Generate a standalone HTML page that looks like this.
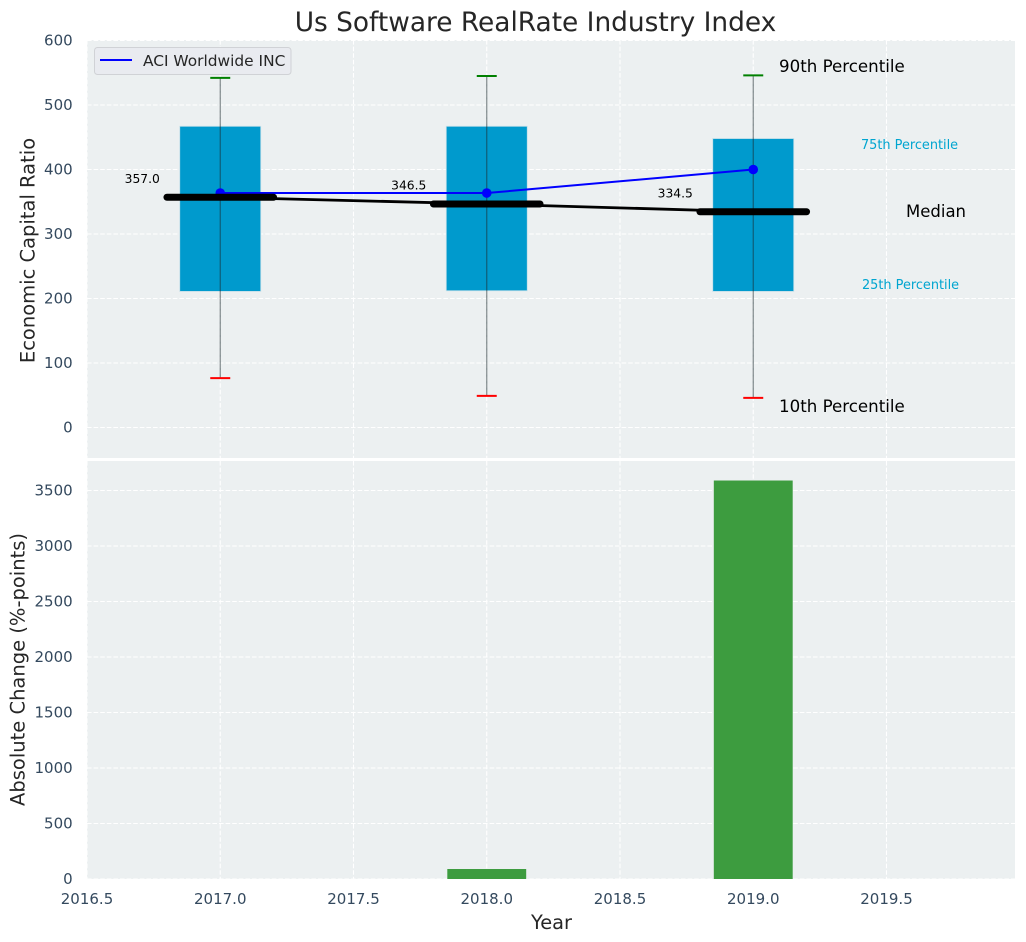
<!DOCTYPE html>
<html>
<head>
<meta charset="utf-8">
<title>Us Software RealRate Industry Index</title>
<style>
html,body{margin:0;padding:0;background:#fff;width:1026px;height:942px;overflow:hidden}
svg{display:block}
text{font-family:"DejaVu Sans",sans-serif}
</style>
</head>
<body>
<svg id="chart" width="1026" height="942" viewBox="0 0 1026 942" xmlns="http://www.w3.org/2000/svg">
<text x="535.5" y="31" text-anchor="middle" font-size="26.4" fill="#262626">Us Software RealRate Industry Index</text>
<rect x="87" y="40" width="928" height="418" fill="#ecf0f1"/>
<rect x="87" y="461" width="928" height="418" fill="#ecf0f1"/>
<g id="grid"></g>
<g id="marks"></g>
<g id="ticks"></g>
<text transform="translate(34.5 250.5) rotate(-90)" text-anchor="middle" font-size="19.5" fill="#262626">Economic Capital Ratio</text>
<text transform="translate(24.5 669.5) rotate(-90)" text-anchor="middle" font-size="19.5" fill="#262626">Absolute Change (%-points)</text>
<text x="551.5" y="929" text-anchor="middle" font-size="19.4" fill="#262626">Year</text>
<text x="779" y="72" font-size="16.67" fill="#000">90th Percentile</text>
<text x="861" y="149" font-size="12.87" fill="#00a5d0">75th Percentile</text>
<text x="906" y="217" font-size="16.5" fill="#000">Median</text>
<text x="862" y="289" font-size="12.87" fill="#00a5d0">25th Percentile</text>
<text x="779" y="412" font-size="16.67" fill="#000">10th Percentile</text>
<g>
<rect x="94.5" y="47.5" width="196.5" height="27" rx="3" fill="#e9ebf0" stroke="#d0d2d6" stroke-width="1"/>
<line x1="100" y1="60" x2="132" y2="60" stroke="#0000ff" stroke-width="2"/>
<text x="143" y="66" font-size="15.4" fill="#262626">ACI Worldwide INC</text>
</g>
</svg>
<script>
const years = [2017, 2018, 2019];
const p10 = [76.5, 49, 46];
const p25 = [211, 212, 211];
const medians = [357.0, 346.5, 334.5];
const p75 = [467, 467, 448];
const p90 = [542, 545, 546];
const aciValues = [363.5, 363.5, 400];
const changeValues = [0, 90, 3590];
const xTickValues = [2016.5, 2017, 2017.5, 2018, 2018.5, 2019, 2019.5];
const topYTicks = [0, 100, 200, 300, 400, 500, 600];
const bottomYTicks = [0, 500, 1000, 1500, 2000, 2500, 3000, 3500];

const NS = 'http://www.w3.org/2000/svg';
const xScale = v => 87 + (v - 2016.5) * 266.5;
const yTop = v => 427.5 - v * 0.645;
const yBottom = v => 879 - v * 0.111;

function make(parent, tag, props, content) {
  const el = document.createElementNS(NS, tag);
  for (const k in props) el.setAttribute(k, props[k]);
  if (content !== undefined) el.textContent = content;
  parent.appendChild(el);
  return el;
}
const gridG = document.getElementById('grid');
const marksG = document.getElementById('marks');
const ticksG = document.getElementById('ticks');
const gridStyle = {stroke: '#ffffff', 'stroke-width': 1.1, 'stroke-dasharray': '4.6 2'};
let el;

xTickValues.forEach(v => {
  el = make(gridG, 'line', Object.assign({x1: xScale(v), x2: xScale(v), y1: 40, y2: 458}, gridStyle));
  
  
  el = make(gridG, 'line', Object.assign({x1: xScale(v), x2: xScale(v), y1: 461, y2: 879}, gridStyle));
  
  
  el = make(ticksG, 'text', {x: xScale(v), y: 904, 'text-anchor': 'middle', 'font-size': 15, fill: '#34495e'}, v.toFixed(1));
  
  
});
topYTicks.forEach(v => {
  el = make(gridG, 'line', Object.assign({x1: 87, x2: 1015, y1: yTop(v), y2: yTop(v)}, gridStyle));
  
  
  el = make(ticksG, 'text', {x: 72.7, y: yTop(v) + 5, 'text-anchor': 'end', 'font-size': 15, fill: '#34495e'}, String(v));
  
  
});
bottomYTicks.forEach(v => {
  el = make(gridG, 'line', Object.assign({x1: 87, x2: 1015, y1: yBottom(v), y2: yBottom(v)}, gridStyle));
  
  
  el = make(ticksG, 'text', {x: 72.7, y: yBottom(v) + 5, 'text-anchor': 'end', 'font-size': 15, fill: '#34495e'}, String(v));
  
  
});

const boxHalf = 0.152, capHalf = 0.0375, medianHalf = 0.2, barHalf = 0.148;

years.forEach((yr, i) => {
  el = make(marksG, 'rect', {x: xScale(yr - boxHalf), y: yTop(p75[i]), width: xScale(yr + boxHalf) - xScale(yr - boxHalf), height: yTop(p25[i]) - yTop(p75[i]), fill: '#009acd', stroke: '#c4dfe9', 'stroke-width': 0.8});
  
  
});
years.forEach((yr, i) => {
  const cx = xScale(yr);
  el = make(marksG, 'line', {x1: cx, x2: cx, y1: yTop(p10[i]), y2: yTop(p90[i]), stroke: '#1c2b30', 'stroke-opacity': 0.55, 'stroke-width': 1.2});
  
  
  el = make(marksG, 'line', {x1: xScale(yr - capHalf), x2: xScale(yr + capHalf), y1: yTop(p90[i]), y2: yTop(p90[i]), stroke: '#008000', 'stroke-width': 2});
  
  
  el = make(marksG, 'line', {x1: xScale(yr - capHalf), x2: xScale(yr + capHalf), y1: yTop(p10[i]), y2: yTop(p10[i]), stroke: '#ff0000', 'stroke-width': 2});
  
  
});

el = make(marksG, 'polyline', {points: years.map((yr, i) => xScale(yr) + ',' + yTop(aciValues[i])).join(' '), fill: 'none', stroke: '#0000ff', 'stroke-width': 2});


years.forEach((yr, i) => {
  el = make(marksG, 'circle', {cx: xScale(yr), cy: yTop(aciValues[i]), r: 4.8, fill: '#0000ff'});
  
  
});

el = make(marksG, 'polyline', {points: years.map((yr, i) => xScale(yr) + ',' + yTop(medians[i])).join(' '), fill: 'none', stroke: '#000000', 'stroke-width': 2.8});


years.forEach((yr, i) => {
  el = make(marksG, 'line', {x1: xScale(yr - medianHalf), x2: xScale(yr + medianHalf), y1: yTop(medians[i]), y2: yTop(medians[i]), stroke: '#000000', 'stroke-width': 7, 'stroke-linecap': 'round'});
  
  
  el = make(marksG, 'text', {x: xScale(yr) - 78, y: yTop(medians[i]) - 14.3, 'text-anchor': 'middle', 'font-size': 12.3, fill: '#000'}, medians[i].toFixed(1));
  
  
});

years.forEach((yr, i) => {
  if (changeValues[i] <= 0) return;
  el = make(marksG, 'rect', {x: xScale(yr - barHalf), y: yBottom(changeValues[i]), width: xScale(yr + barHalf) - xScale(yr - barHalf), height: yBottom(0) - yBottom(changeValues[i]), fill: '#3d9c3f'});
  
  
});
</script>
</body>
</html>
